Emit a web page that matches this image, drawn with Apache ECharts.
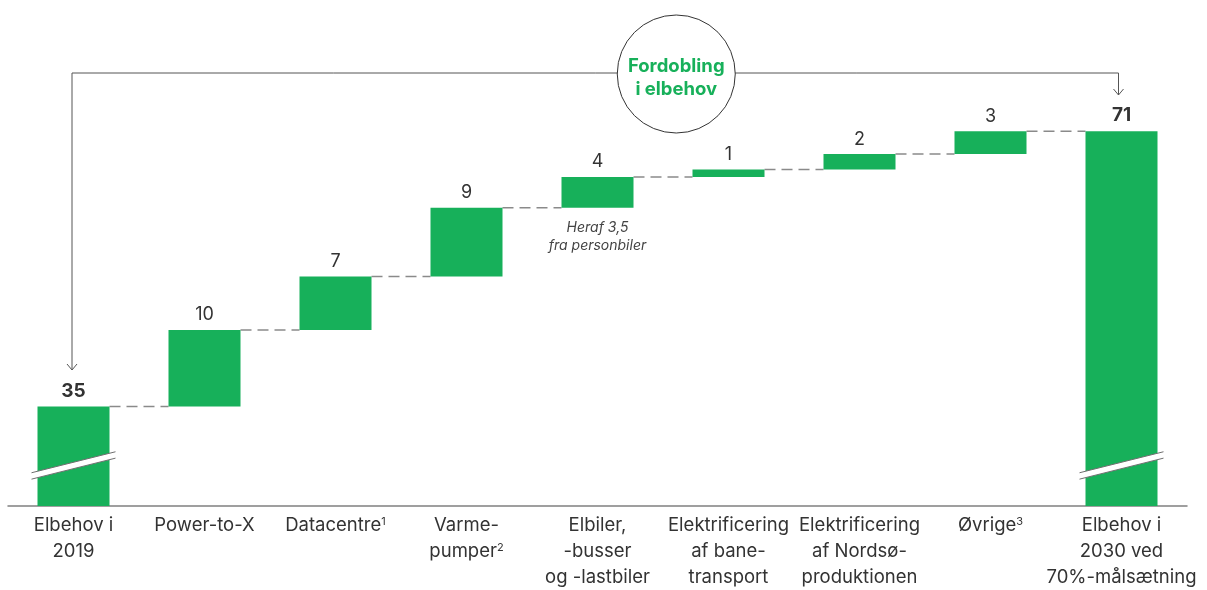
<!DOCTYPE html>
<html>
<head>
<meta charset="utf-8">
<title>Elbehov 2019-2030</title>
<script src="https://cdn.jsdelivr.net/npm/echarts@6/dist/echarts.min.js"></script>
<style>
  html, body { margin: 0; padding: 0; background: #fff; }
  #main { width: 1207px; height: 590px; }
</style>
</head>
<body>
<div id="main"></div>
<script>
  // data ({s|n} = footnote marker)
  var categories = [
    'Elbehov i\n2019', 'Power-to-X', 'Datacentre{s|1}', 'Varme-\npumper{s|2}',
    'Elbiler,\n-busser\nog -lastbiler', 'Elektrificering\naf bane-\ntransport',
    'Elektrificering\naf Nordsø-\nproduktionen', 'Øvrige{s|3}',
    'Elbehov i\n2030 ved\n70%-målsætning'
  ];
  var values = [35, 10, 7, 9, 4, 1, 2, 3, 71];
  var totalIndex = [0, 8];          // bars standing on the axis
  var breakValue = 27.3;            // where the axis break is drawn on the totals
  var noteIndex = 4;
  var noteText = 'Heraf 3,5\nfra personbiler';

  var GREEN = '#17b05a';
  var TEXT = '#333333';
  var FONT = 'Inter, "Noto Sans", sans-serif';

  // invisible base for the waterfall steps
  var bases = [];
  var running = 0;
  values.forEach(function (v, i) {
    if (totalIndex.indexOf(i) >= 0) {
      bases.push(0);
      running = v;
    } else {
      bases.push(running);
      running += v;
    }
  });
  var tops = values.map(function (v, i) { return bases[i] + v; });

  var chart = echarts.init(document.getElementById('main'));

  var baseData = bases.map(function (b, i) {
    if (i === noteIndex) {
      return {
        value: b,
        label: {
          show: true, position: 'insideTop', distance: 11,
          formatter: noteText, fontStyle: 'italic', fontSize: 14,
          lineHeight: 18, color: '#444'
        }
      };
    }
    return b;
  });

  var valueData = values.map(function (v, i) {
    var bold = totalIndex.indexOf(i) >= 0;
    return {
      value: v,
      label: { fontWeight: bold ? 'bold' : 'normal', fontSize: bold ? 19 : 18 }
    };
  });

  // connectors between neighbouring bars
  var connectorData = [];
  for (var i = 0; i < values.length - 1; i++) {
    connectorData.push([i, tops[i]]);
  }

  chart.setOption({
    animation: false,
    textStyle: { fontFamily: FONT },
    grid: { left: 8, right: 20, top: 62.3, bottom: 83 },
    xAxis: {
      type: 'category',
      data: categories,
      axisTick: { show: false },
      axisLine: { lineStyle: { color: '#808080', width: 1.5 } },
      axisLabel: {
        interval: 0, fontSize: 18.5, lineHeight: 26, color: TEXT, margin: 6,
        rich: {
          s: { fontSize: 11, color: TEXT, verticalAlign: 'top', padding: [4, 0, 0, 0] }
        }
      }
    },
    yAxis: {
      type: 'value', min: 22, max: 80, show: false,
      splitLine: { show: false }
    },
    series: [
      {
        type: 'bar', stack: 'w', barWidth: 72,
        itemStyle: { color: 'transparent' },
        data: baseData
      },
      {
        type: 'bar', stack: 'w', barWidth: 72,
        itemStyle: { color: GREEN },
        label: {
          show: true, position: 'top', distance: 6, color: TEXT
        },
        data: valueData,
        z: 3
      },
      {
        type: 'custom',
        data: connectorData,
        renderItem: function (params, api) {
          var a = api.coord([api.value(0), api.value(1)]);
          var b = api.coord([api.value(0) + 1, api.value(1)]);
          return {
            type: 'line',
            shape: { x1: a[0] + 36, y1: a[1], x2: b[0] - 36, y2: b[1] },
            style: { stroke: '#8a8a8a', lineWidth: 1.5, lineDash: [11, 6] }
          };
        },
        z: 2
      },
      {
        type: 'custom',
        data: totalIndex.map(function (k) { return [k, breakValue]; }),
        renderItem: function (params, api) {
          var c = api.coord([api.value(0), api.value(1)]);
          var x0 = c[0] - 42, x1 = c[0] + 42;
          var dy = 10.5, h = 3.2;
          return {
            type: 'group',
            children: [
              {
                type: 'polygon',
                shape: { points: [[x0, c[1] + dy - h], [x1, c[1] - dy - h], [x1, c[1] - dy + h], [x0, c[1] + dy + h]] },
                style: { fill: '#ffffff' }
              },
              {
                type: 'line',
                shape: { x1: x0, y1: c[1] + dy - h, x2: x1, y2: c[1] - dy - h },
                style: { stroke: '#6f6f6f', lineWidth: 1 }
              },
              {
                type: 'line',
                shape: { x1: x0, y1: c[1] + dy + h, x2: x1, y2: c[1] - dy + h },
                style: { stroke: '#6f6f6f', lineWidth: 1 }
              }
            ]
          };
        },
        z: 5
      }
    ]
  });

  // bracket with the circle on top
  var xl = chart.convertToPixel({ xAxisIndex: 0 }, 0) - 1.5;
  var xr = chart.convertToPixel({ xAxisIndex: 0 }, 8) - 3;
  var yTop = 73;
  var cx = (xl + xr) / 2 + 81;
  var LINE = '#555555';

  chart.setOption({
    graphic: [
      {
        type: 'polyline', z: 10,
        shape: { points: [[xl, 370], [xl, yTop], [xr, yTop], [xr, 95]] },
        style: { stroke: LINE, lineWidth: 1, fill: null }
      },
      {
        type: 'polyline', z: 10,
        shape: { points: [[xl - 5, 364], [xl, 370], [xl + 5, 364]] },
        style: { stroke: LINE, lineWidth: 1, fill: null }
      },
      {
        type: 'polyline', z: 10,
        shape: { points: [[xr - 5, 89], [xr, 95], [xr + 5, 89]] },
        style: { stroke: LINE, lineWidth: 1, fill: null }
      },
      {
        type: 'circle', z: 11,
        shape: { cx: cx, cy: 74, r: 59 },
        style: { fill: '#ffffff', stroke: '#333333', lineWidth: 1 }
      },
      {
        type: 'text', z: 12,
        x: cx, y: 78,
        style: {
          text: 'Fordobling\ni elbehov',
          fill: GREEN, font: 'bold 18.5px ' + FONT,
          lineHeight: 23, align: 'center', verticalAlign: 'middle'
        }
      }
    ]
  });
</script>
</body>
</html>
